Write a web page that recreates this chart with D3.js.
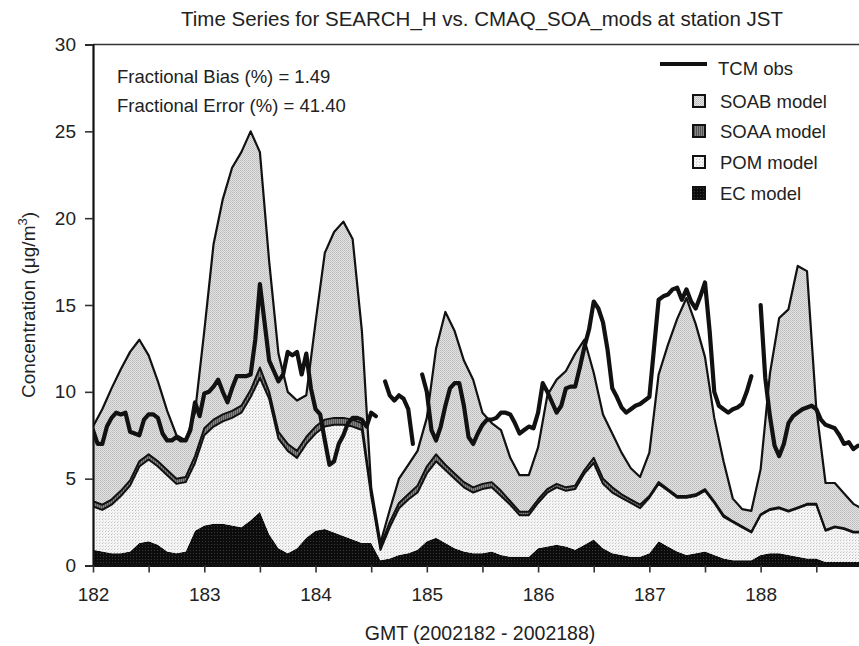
<!DOCTYPE html>
<html>
<head>
<meta charset="utf-8">
<script src="https://cdn.jsdelivr.net/npm/d3@7"></script>
<style>
  body { margin: 0; background: #fff; }
  svg { display: block; font-family: "Liberation Sans", Arial, sans-serif; }
</style>
</head>
<body>
<svg id="chart" width="859" height="646"></svg>
<script>
// day of year 2002, model values every 2 h, obs every 1 h
const startDay = 182
const modelStep = 2 / 24
const obsStep = 1 / 24

const ecModel = [
  0.9,0.8,0.7,0.7,0.8,1.3,1.4,1.2,0.8,0.7,
  0.8,2.0,2.3,2.4,2.4,2.3,2.2,2.6,3.1,1.8,
  1.0,0.7,1.0,1.6,2.0,2.1,1.9,1.7,1.5,1.3,
  1.3,0.3,0.4,0.6,0.7,0.9,1.4,1.6,1.3,1.0,
  0.8,0.7,0.7,0.8,0.6,0.5,0.5,0.5,1.0,1.1,
  1.2,1.1,0.9,1.2,1.5,1.0,0.7,0.6,0.5,0.5,
  0.7,1.4,1.1,0.8,0.6,0.7,0.8,0.6,0.4,0.3,
  0.3,0.3,0.6,0.7,0.7,0.6,0.5,0.4,0.4,0.2,
  0.2,0.2,0.2,0.2
]
const pomModel = [
  2.5,2.4,2.8,3.3,3.8,4.4,4.7,4.5,4.4,4.0,
  4.0,3.9,5.2,5.6,5.9,6.2,6.6,7.1,7.7,7.8,
  6.3,5.9,5.2,5.4,5.6,5.9,6.2,6.4,6.5,6.5,
  2.7,0.6,1.8,2.7,3.1,3.3,3.9,4.4,4.2,4.0,
  3.7,3.5,3.7,3.7,3.4,3.0,2.4,2.4,2.6,3.1,
  3.3,3.2,3.5,4.1,4.4,3.7,3.5,3.3,3.1,2.8,
  3.2,3.3,3.2,3.1,3.3,3.3,3.5,3.0,2.4,2.2,
  1.9,1.6,2.3,2.5,2.6,2.5,2.8,3.1,3.1,1.8,
  2.0,1.9,1.7,1.7
]
const soaaModel = [
  0.3,0.3,0.3,0.3,0.3,0.3,0.3,0.3,0.3,0.3,
  0.3,0.4,0.4,0.4,0.4,0.4,0.4,0.4,0.6,0.4,
  0.4,0.4,0.4,0.4,0.4,0.4,0.4,0.4,0.4,0.4,
  0.2,0.2,0.3,0.3,0.3,0.4,0.4,0.4,0.3,0.3,
  0.3,0.3,0.3,0.3,0.3,0.2,0.2,0.2,0.2,0.2,
  0.2,0.2,0.2,0.2,0.3,0.3,0.3,0.2,0.2,0.2,
  0.1,0.1,0.1,0.1,0.1,0.1,0.1,0.1,0.1,0.05,
  0.05,0.05,0.05,0.05,0.05,0.05,0.05,0.05,0.05,0.05,
  0.05,0.05,0.05,0.05
]
const soabModel = [
  4.3,5.5,6.4,7.0,7.4,7.0,5.7,4.6,3.4,2.5,
  2.1,2.5,5.6,10.1,12.4,14.0,14.6,14.9,12.4,7.5,
  4.5,3.0,2.9,2.4,6.0,9.6,10.7,11.3,10.4,5.3,
  0.3,0.2,0.7,1.4,1.7,2.0,2.8,6.1,8.8,8.2,
  7.0,6.2,4.1,3.4,3.5,2.5,2.1,2.1,3.0,5.4,
  6.0,6.7,7.6,7.5,4.9,3.7,3.1,2.4,1.8,1.6,
  2.5,6.2,8.3,10.2,11.4,9.8,7.6,4.8,3.1,1.3,
  1.0,1.2,2.6,7.8,10.9,11.6,13.9,13.4,5.5,2.7,
  2.5,2.0,1.6,1.3
]
// null = no observation
const tcmObs = [
  7.8,7.0,7.0,8.0,8.5,8.8,8.7,8.8,7.7,7.6,7.5,8.4,8.7,8.7,8.5,7.6,7.2,7.2,7.4,7.2,7.2,7.8,9.4,8.6,
  9.9,10.0,10.3,10.7,10.0,9.4,10.2,10.9,10.9,10.9,11.0,13.0,16.2,14.0,11.8,11.2,10.6,11.0,12.3,12.1,12.3,11.0,12.2,10.2,
  9.0,8.7,7.2,5.8,6.0,7.0,7.5,8.2,8.5,8.5,8.4,8.0,8.8,8.6,null,10.6,9.8,9.5,9.8,9.6,9.0,7.0,null,11.0,
  10.0,7.8,7.2,8.0,9.2,10.2,10.5,10.5,9.2,7.4,7.0,7.6,8.1,8.4,8.4,8.5,8.8,8.8,8.7,8.2,7.6,7.8,8.0,7.9,
  8.8,10.5,10.0,9.4,8.8,9.2,10.2,10.3,10.3,11.4,12.6,13.6,15.2,14.8,14.0,12.4,10.2,9.7,9.1,8.8,9.0,9.2,9.3,9.5,
  9.7,12.5,15.3,15.5,15.6,15.9,16.0,15.3,15.9,15.2,14.8,15.5,16.3,13.5,10.0,9.2,9.0,8.8,9.0,9.1,9.3,10.0,10.9,null,
  15.0,10.8,8.6,6.9,6.3,7.0,8.2,8.6,8.8,9.0,9.1,9.2,9.0,8.4,8.1,8.0,7.9,7.5,7.0,7.1,6.7,6.9
]

const dayTicks = d3.range(182, 189, 0.5)
const yTicks = [0, 5, 10, 15, 20, 25, 30]
const legendItems = [
  { key: 'obs', label: 'TCM obs' },
  { key: 'soab', label: 'SOAB model' },
  { key: 'soaa', label: 'SOAA model' },
  { key: 'pom', label: 'POM model' },
  { key: 'ec', label: 'EC model' }
]

const svg = d3.select('#chart')
const plotL = 93, plotR = 858, plotT = 44.5, plotB = 565.5

const x = d3.scaleLinear().domain([182, 188.875]).range([plotL, plotR])
const y = d3.scaleLinear().domain([0, 30]).range([plotB, plotT])

// fill textures
const defs = svg.append('defs')
const pat = (id, size, bg, dots) => {
  const p = defs.append('pattern').attr('id', id).attr('patternUnits', 'userSpaceOnUse')
    .attr('width', size).attr('height', size)
  p.append('rect').attr('width', size).attr('height', size).attr('fill', bg)
  dots.forEach(d => p.append('rect').attr('x', d[0]).attr('y', d[1])
    .attr('width', d[2]).attr('height', d[3]).attr('fill', d[4]))
}
pat('p-soab', 2, '#e2e2e2', [[0, 0, 1, 1, '#bdbdbd'], [1, 1, 1, 1, '#c6c6c6']])
pat('p-soaa', 2, '#858585', [[0, 0, 1, 2, '#555']])
pat('p-pom', 3, '#f5f5f5', [[0, 0, 1, 1, '#c4c4c4'], [1, 2, 1, 1, '#dcdcdc']])
pat('p-ec', 3, '#0c0c0c', [[1, 1, 1, 1, '#3a3a3a']])

defs.append('clipPath').attr('id', 'plot-clip').append('rect')
  .attr('x', plotL).attr('y', plotT).attr('width', 859 - plotL).attr('height', plotB - plotT + 1)

const rows = ecModel.map((d, i) => ({
  t: startDay + i * modelStep,
  ec: d, pom: pomModel[i], soaa: soaaModel[i], soab: soabModel[i]
}))
const keys = ['ec', 'pom', 'soaa', 'soab']
const stack = d3.stack().keys(keys)(rows)
const fills = { ec: 'url(#p-ec)', pom: 'url(#p-pom)', soaa: 'url(#p-soaa)', soab: 'url(#p-soab)' }

const plot = svg.append('g').attr('clip-path', 'url(#plot-clip)')

const area = d3.area()
  .x(d => x(d.data.t))
  .y0(d => y(d[0]))
  .y1(d => y(d[1]))

plot.selectAll('.layer')
  .data(stack)
  .enter()
  .append('path')
  .attr('class', 'layer')
  .attr('fill', d => fills[d.key])
  .attr('d', area)

const topLine = d3.line().x(d => x(d.data.t)).y(d => y(d[1]))
plot.selectAll('.edge')
  .data(stack.filter(s => s.key !== 'ec'))
  .enter()
  .append('path')
  .attr('class', 'edge')
  .attr('fill', 'none')
  .attr('stroke', '#111')
  .attr('stroke-width', d => d.key === 'soab' ? 2.2 : 2)
  .attr('stroke-linejoin', 'round')
  .attr('d', topLine)

const obsLine = d3.line()
  .defined(d => d != null)
  .x((d, i) => x(startDay + i * obsStep))
  .y(d => y(d))

plot.append('path')
  .datum(tcmObs)
  .attr('fill', 'none')
  .attr('stroke', '#111')
  .attr('stroke-width', 4.2)
  .attr('stroke-linejoin', 'round')
  .attr('stroke-linecap', 'round')
  .attr('d', obsLine)

// frame
svg.append('line').attr('x1', plotL).attr('x2', 859).attr('y1', plotT).attr('y2', plotT)
  .attr('stroke', '#333').attr('stroke-width', 1.6)

const yAxis = svg.append('g').attr('transform', `translate(${plotL},0)`)
  .call(d3.axisLeft(y).tickValues(yTicks).tickSize(8).tickPadding(9).tickFormat(d3.format('d')))
yAxis.select('.domain').attr('stroke-width', 2.2).attr('stroke', '#111')
yAxis.selectAll('.tick line').attr('stroke-width', 1.6).attr('stroke', '#333')
yAxis.selectAll('text').attr('font-size', 19).attr('fill', '#222')

const xAxis = svg.append('g').attr('transform', `translate(0,${plotB})`)
  .call(d3.axisBottom(x).tickValues(dayTicks).tickSize(7).tickPadding(15)
    .tickFormat(d => Number.isInteger(d) ? d : ''))
xAxis.select('.domain').attr('d', `M${plotL},0H859`).attr('stroke-width', 3).attr('stroke', '#111')
xAxis.selectAll('.tick line').attr('stroke-width', 1.6).attr('stroke', '#333')
xAxis.selectAll('text').attr('font-size', 19).attr('fill', '#222')

// titles
svg.append('text').attr('x', 482).attr('y', 26).attr('text-anchor', 'middle')
  .attr('font-size', 20.5).attr('fill', '#222')
  .text('Time Series for SEARCH_H vs. CMAQ_SOA_mods at station JST')

svg.append('text').attr('x', 480).attr('y', 640).attr('text-anchor', 'middle')
  .attr('font-size', 19.5).attr('fill', '#222')
  .text('GMT (2002182 - 2002188)')

const yTitle = svg.append('text')
  .attr('transform', 'translate(35,305) rotate(-90)')
  .attr('text-anchor', 'middle').attr('font-size', 19).attr('fill', '#222')
yTitle.append('tspan').text('Concentration (μg/m')
yTitle.append('tspan').attr('font-size', 13).attr('dy', -8).text('3')
yTitle.append('tspan').attr('dy', 8).text(')')

// stats
const stats = ['Fractional Bias (%) = 1.49', 'Fractional Error (%) = 41.40']
svg.selectAll('.stat').data(stats).enter().append('text')
  .attr('class', 'stat')
  .attr('x', 117).attr('y', (d, i) => 83 + i * 29)
  .attr('font-size', 18.5).attr('fill', '#222')
  .text(d => d)

// legend
const leg = svg.append('g')
const legRow = [68, 101, 131, 162, 193]
legendItems.forEach((it, i) => {
  const g = leg.append('g').attr('transform', `translate(0,${legRow[i]})`)
  if (it.key === 'obs') {
    g.append('line').attr('x1', 660).attr('x2', 707).attr('y1', -4).attr('y2', -4)
      .attr('stroke', '#111').attr('stroke-width', 4.2)
    g.append('text').attr('x', 718).attr('y', 7).attr('font-size', 18.5).attr('fill', '#222').text(it.label)
  } else {
    g.append('rect').attr('x', 693).attr('y', -6).attr('width', 12).attr('height', 12)
      .attr('fill', fills[it.key]).attr('stroke', '#111').attr('stroke-width', 2)
    g.append('text').attr('x', 720).attr('y', 6.5).attr('font-size', 18.5).attr('fill', '#222').text(it.label)
  }
})
</script>
</body>
</html>
